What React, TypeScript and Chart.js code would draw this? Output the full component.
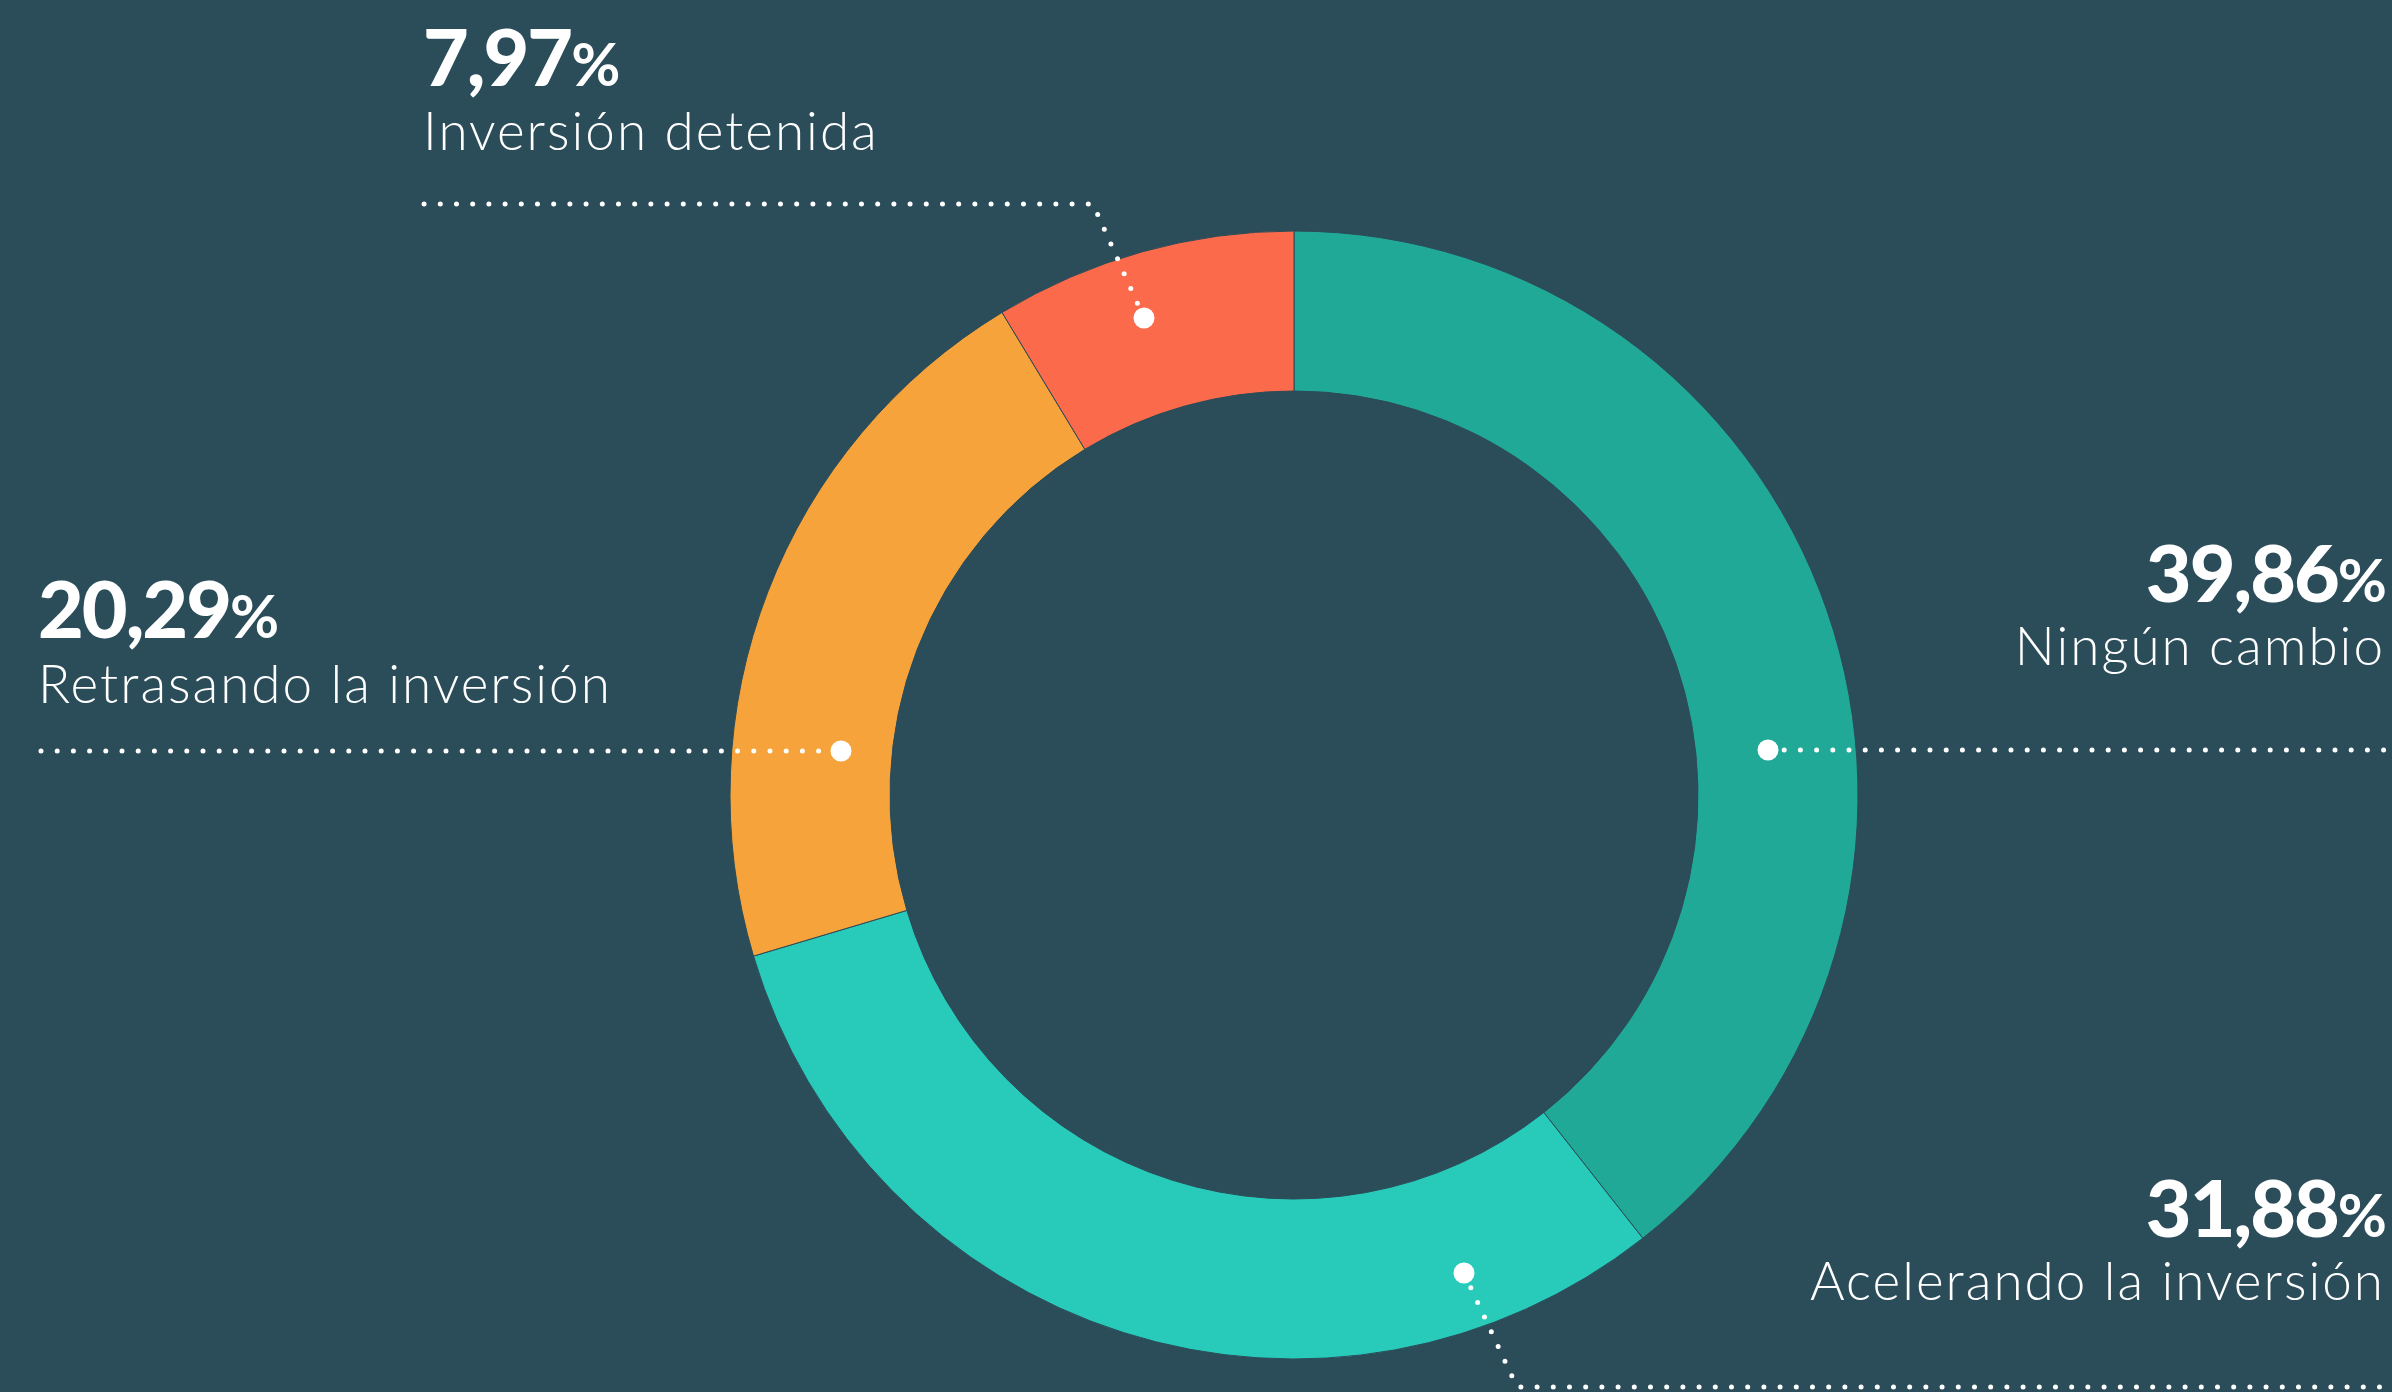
import React, { useEffect, useRef } from "react";
import { Chart, registerables } from "chart.js";

Chart.register(...registerables);

// ---- data ----
const CATEGORIES = [
  "Ningún cambio",
  "Acelerando la inversión",
  "Retrasando la inversión",
  "Inversión detenida",
];
// printed percentages (labels)
const PERCENTS = [39.86, 31.88, 20.29, 7.97];
const SLICE_SHARES = [39.39, 31.0, 20.95, 8.66];
const COLORS = ["#20A997", "#28CBB9", "#F5A33A", "#FB6A4A"];

// ---- layout / style ----
const BG = "#2B4C59";
const W = 2392;
const H = 1392;
const CX = 1294;
const CY = 795;
const R_OUT = 564;
const R_IN = 404;

const LABEL_POS = [
  { anchor: "end", x: 2385, numY: 602, textY: 665 },
  { anchor: "end", x: 2385, numY: 1237, textY: 1300 },
  { anchor: "start", x: 38, numY: 638, textY: 703 },
  { anchor: "start", x: 423, numY: 86, textY: 150 },
];

// leader polylines: [path points], dot = index of the anchor-dot point
const LEADERS: { pts: number[][]; dot: number }[] = [
  { pts: [[1768, 750], [2392, 750]], dot: 0 },
  { pts: [[1464, 1273], [1517, 1387], [2392, 1387]], dot: 0 },
  { pts: [[41, 751], [841, 751]], dot: 1 },
  { pts: [[1144, 318], [1093, 204], [420, 204]], dot: 0 },
];

const fmt = (v: number) => v.toFixed(2).replace(".", ",");

const leaderPlugin = {
  id: "leaders",
  afterDatasetsDraw(chart: any) {
    const ctx = chart.ctx as CanvasRenderingContext2D;
    ctx.save();
    ctx.strokeStyle = "#FFFFFF";
    ctx.fillStyle = "#FFFFFF";
    ctx.lineWidth = 5;
    ctx.lineCap = "round";
    ctx.setLineDash([0, 16.2]);
    LEADERS.forEach(({ pts }) => {
      ctx.beginPath();
      ctx.moveTo(pts[0][0], pts[0][1]);
      for (let i = 1; i < pts.length; i++) ctx.lineTo(pts[i][0], pts[i][1]);
      ctx.stroke();
    });
    ctx.setLineDash([]);
    LEADERS.forEach(({ pts, dot }) => {
      ctx.beginPath();
      ctx.arc(pts[dot][0], pts[dot][1], 10.5, 0, Math.PI * 2);
      ctx.fill();
    });
    ctx.restore();
  },
};

export default function App() {
  const canvasRef = useRef<HTMLCanvasElement | null>(null);

  useEffect(() => {
    document.body.style.margin = "0";
    document.body.style.background = BG;
    const canvas = canvasRef.current;
    if (!canvas) return;
    const chart = new Chart(canvas, {
      type: "doughnut",
      data: {
        labels: CATEGORIES,
        datasets: [
          {
            data: SLICE_SHARES,
            backgroundColor: COLORS,
            borderColor: BG,
            borderWidth: 1,
            hoverOffset: 0,
          },
        ],
      },
      options: {
        animation: false,
        responsive: false,
        maintainAspectRatio: false,
        devicePixelRatio: 1,
        events: [],
        radius: R_OUT,
        cutout: ((R_IN / R_OUT) * 100).toFixed(3) + "%",
        layout: {
          padding: { left: 2 * CX - W, top: 2 * CY - H, right: 0, bottom: 0 },
        },
        plugins: {
          legend: { display: false },
          tooltip: { enabled: false },
        },
      } as any,
      plugins: [leaderPlugin],
    });
    return () => chart.destroy();
  }, []);

  return (
    <div
      style={{
        position: "fixed",
        left: 0,
        top: 0,
        width: W,
        height: H,
        background: BG,
        overflow: "hidden",
      }}
    >
      <canvas
        ref={canvasRef}
        width={W}
        height={H}
        style={{ position: "absolute", left: 0, top: 0, width: W, height: H }}
      />
      <svg
        width={W}
        height={H}
        style={{ position: "absolute", left: 0, top: 0 }}
      >
        {CATEGORIES.map((cat, i) => {
          const p = LABEL_POS[i];
          return (
            <g key={cat} fill="#FFFFFF" fontFamily="Lato, 'Open Sans', sans-serif">
              <text
                x={p.x}
                y={p.numY}
                textAnchor={p.anchor}
                fontWeight={900}
                fontSize={79}
                letterSpacing={-2}
              >
                {fmt(PERCENTS[i])}
                <tspan fontSize={60} fontWeight={700}>%</tspan>
              </text>
              <text
                x={p.x}
                y={p.textY}
                textAnchor={p.anchor}
                fontWeight={300}
                fontSize={53}
                letterSpacing={2}
              >
                {cat}
              </text>
            </g>
          );
        })}
      </svg>
    </div>
  );
}
